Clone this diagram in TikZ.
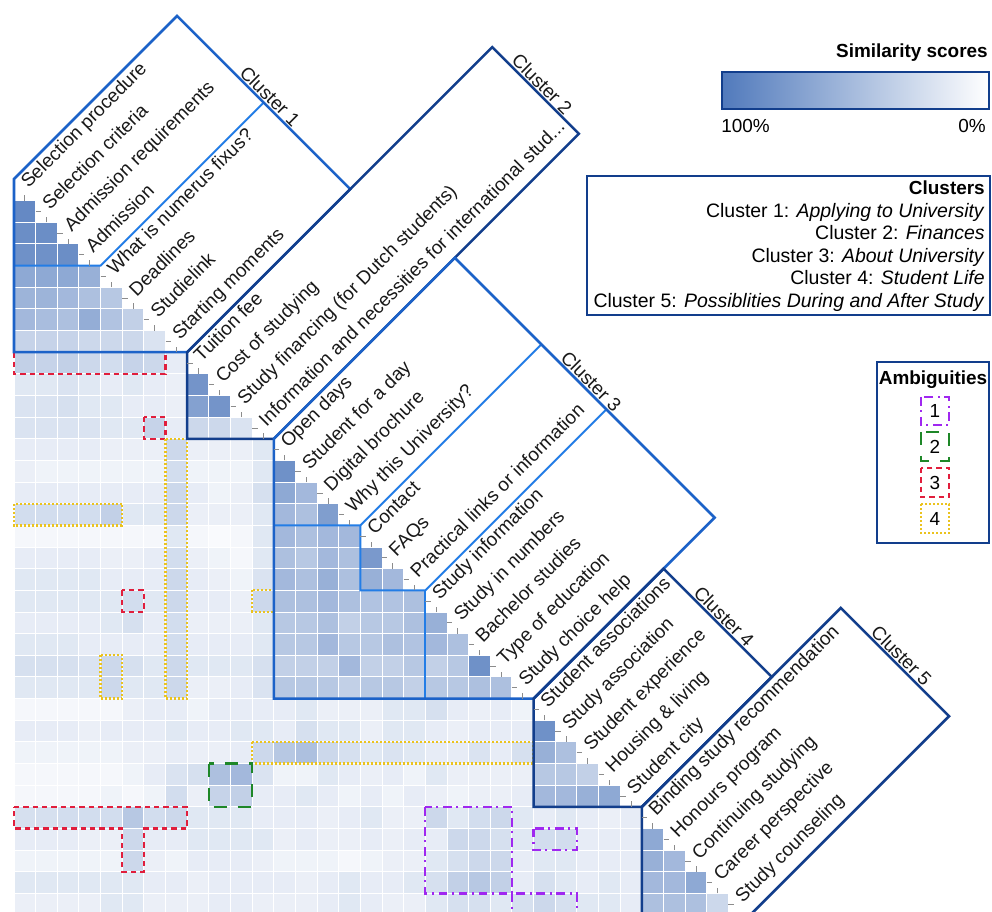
\documentclass[tikz,border=0pt]{standalone}
\usepackage{fontspec}
\setmainfont{Liberation Sans}
\definecolor{navy}{RGB}{18,62,140}
\definecolor{midblue}{RGB}{28,98,200}
\definecolor{bright}{RGB}{35,125,230}
\definecolor{simc}{RGB}{50,98,176}
\definecolor{ambA}{RGB}{160,40,240}
\definecolor{ambB}{RGB}{30,135,40}
\definecolor{ambC}{RGB}{225,30,60}
\definecolor{ambD}{RGB}{235,195,30}
\definecolor{tickc}{RGB}{140,140,140}
\definecolor{txt}{RGB}{25,25,25}
\begin{document}
\begin{tikzpicture}[x=0.75pt,y=-0.75pt,font=\fontsize{14.2pt}{17pt}\selectfont,
  clusterline/.style={line width=1.9pt,line join=miter},
  subline/.style={draw=bright,line width=1.5pt,line join=miter},
  cell/.style={draw=white,line width=0.7pt},
  tickmark/.style={draw=tickc,line width=0.6pt},
  lab/.style={rotate=45,anchor=base west,inner sep=0pt,text=txt,xshift=2.2pt,yshift=-1.5pt},
  clab/.style={rotate=-45,anchor=south,inner sep=1.5pt,text=txt},
  amb1/.style={draw=ambA,line width=1.7pt,dash pattern=on 6.5pt off 3.5pt on 1.5pt off 3.5pt},
  amb2/.style={draw=ambB,line width=1.7pt,dash pattern=on 10pt off 8pt},
  amb3/.style={draw=ambC,line width=1.7pt,dash pattern=on 4pt off 3pt},
  amb4/.style={draw=ambD,line width=1.7pt,dash pattern=on 1.5pt off 1.5pt},
  legbox/.style={draw=navy,line width=1.7pt},
  legtext/.style={anchor=base east,inner sep=0pt,font=\fontsize{14.6pt}{17pt}\selectfont},
  boldf/.style={font=\fontsize{14.2pt}{17pt}\selectfont\bfseries}]

\fill[white] (0,0) rectangle (992,912);
\useasboundingbox (0,0) rectangle (992,912);

\begin{scope}[shift={(14,179)}]
\begin{scope}[x=16.2375pt,y=-16.2375pt]
% ---------- cells ----------
\foreach \i/\vals in {
2/{75},
3/{72,72},
4/{70,70,72},
5/{55,55,55,50},
6/{48,48,45,40,35},
7/{45,42,40,52,38,30},
8/{28,28,28,25,25,25,18},
9/{30,28,30,25,22,28,25,12},
10/{15,15,18,15,12,15,12,10,68},
11/{18,18,20,15,15,12,12,10,60,68},
12/{18,18,18,18,15,15,28,12,25,25,18},
13/{12,12,12,12,10,10,10,25,10,10,10,15},
14/{10,8,8,8,8,8,8,22,8,8,8,15,70},
15/{12,12,12,12,12,12,12,25,12,8,10,20,55,45},
16/{22,22,22,22,30,15,15,25,10,10,10,15,45,40,62},
17/{5,5,5,5,5,5,5,15,5,3,5,15,45,40,45,45},
18/{12,12,12,12,10,10,12,22,10,8,5,15,40,35,45,40,65},
19/{15,15,15,15,12,12,12,25,12,10,8,18,45,40,50,40,50,45},
20/{15,15,15,15,15,22,15,25,12,12,10,25,40,40,45,40,38,38,40},
21/{12,12,12,12,15,20,12,22,10,10,10,15,35,35,40,30,35,35,40,50},
22/{15,15,15,12,12,12,12,22,12,12,12,15,35,35,45,35,35,40,38,45,40},
23/{20,20,20,18,25,20,15,25,15,15,15,20,30,30,30,45,30,30,35,30,35,70},
24/{15,15,15,15,25,15,15,25,10,10,12,18,35,35,35,30,35,35,30,35,35,40,40},
25/{5,5,5,5,5,10,12,12,8,12,12,12,12,15,10,10,10,15,15,20,12,10,12,8},
26/{12,12,12,10,12,12,12,15,12,12,15,15,12,20,15,15,10,15,15,12,10,12,12,12,70},
27/{8,8,8,8,8,10,10,12,10,10,12,25,35,40,25,20,15,18,15,12,12,18,12,20,50,40},
28/{5,5,5,5,5,8,12,18,20,40,45,18,8,8,15,12,10,12,8,15,10,10,10,10,35,35,30},
29/{5,5,5,5,8,5,8,22,10,28,30,12,12,15,12,8,12,8,12,10,8,10,10,12,45,45,50,55},
30/{20,20,22,22,22,35,22,25,15,15,15,12,12,12,10,12,15,10,10,25,15,22,25,15,12,15,12,10,12},
31/{12,12,12,10,10,25,12,12,15,15,15,15,10,12,10,10,12,10,12,12,25,25,20,15,22,22,12,12,12,55},
32/{8,8,8,8,8,25,10,8,12,12,12,10,8,8,8,5,8,10,10,15,20,25,25,12,15,15,12,12,12,50,45},
33/{15,15,15,15,15,15,12,12,10,12,12,12,12,10,12,15,12,12,15,20,30,35,30,12,20,15,12,15,12,45,45,55},
34/{10,10,10,10,15,15,10,10,10,12,12,10,10,10,12,15,12,10,10,15,20,20,15,20,25,20,15,15,12,40,40,40,25}}{
  \foreach \v [count=\j] in \vals {
    \fill[simc!\v!white,cell] (\j-1,\i-1) rectangle (\j,\i);
  }
}
% ---------- ambiguity marks ----------
\draw[amb3] (0,8) rectangle (7,9);
\draw[amb3] (6,11) rectangle (7,12);
\draw[amb3] (5,19) rectangle (6,20);
\draw[amb3] (0,29) -- (8,29) -- (8,30) -- (6,30) -- (6,32) -- (5,32) -- (5,30) -- (0,30) -- cycle;
\draw[amb4] (7,12) rectangle (8,24);
\draw[amb4] (0,15) rectangle (5,16);
\draw[amb4] (11,19) rectangle (12,20);
\draw[amb4] (4,22) rectangle (5,24);
\draw[amb4] (11,26) rectangle (24,27);
\draw[amb2] (9,27) rectangle (11,29);
\draw[amb1] (19,29) rectangle (23,33);
\draw[amb1] (24,30) rectangle (26,31);
\draw[amb1] (23,33) rectangle (26,34);
% ---------- sub-cluster separators ----------
\draw[subline] (0,4) -- (4,4) -- (4+7.53,4-7.53);
\draw[subline] (12,16) -- (16,16) -- (16+8.36,16-8.36);
\draw[subline] (16,16) -- (16,19) -- (19,19) -- (19+8.36,19-8.36);
\draw[subline] (19,19) -- (19,24);
% ---------- cluster outlines ----------
\foreach \A/\B/\L/\n/\col in {0/8/7.53/1/midblue, 8/12/14.09/2/navy, 12/24/8.36/3/midblue, 24/29/6.0/4/navy, 29/34/9.19/5/navy}{
  \draw[clusterline,draw=\col] (\A,\B) -- (\A,\A) -- (\A+\L,\A-\L) -- (\B+\L,\B-\L) -- (\B,\B) -- cycle;
  \node[clab] (c\n) at ({(\A+\B)/2+\L},{(\A+\B)/2-\L}) {Cluster \n};
}
% ---------- ticks and labels ----------
\foreach \i in {1,...,33}{ \draw[tickmark] (\i-0.5,\i) -- (\i-0.5,\i-0.25); }
\foreach \i in {2,...,34}{ \draw[tickmark] (\i-1,\i-0.5) -- (\i-0.75,\i-0.5); }
\foreach \t [count=\i] in {Selection procedure, Selection criteria, Admission requirements, Admission, What is numerus fixus?, Deadlines, Studielink, Starting moments, Tuition fee, Cost of studying, Study financing (for Dutch students), Information and necessities for international stud.{}.{}., Open days, Student for a day, Digital brochure, Why this University?, Contact, FAQs, Practical links or information, Study information, Study in numbers, Bachelor studies, Type of education, Study choice help, Student associations, Study association, Student experience, Housing \& living, Student city, Binding study recommendation, Honours program, Continuing studying, Career perspective, Study counseling}{
  \node[lab] (l\i) at (\i-0.5,\i-0.5) {\t};
}
\end{scope}
\end{scope}

% ---------- legends ----------
\node[boldf,anchor=base east,inner sep=0pt] (simt) at (988,58) {Similarity scores};
\shade[left color=simc!85!white,right color=white] (722,72) rectangle (989,109);
\draw[legbox] (722,72) rectangle (989,109);
\node[anchor=base west,inner sep=0pt] (p100) at (721,133) {100\%};
\node[anchor=base east,inner sep=0pt] (p0) at (986,133) {0\%};

\draw[legbox] (587,176) rectangle (990,315);
\node[boldf,anchor=base east,inner sep=0pt] (clt) at (985,195) {Clusters};
\node[legtext] (cl1) at (985,217.5) {Cluster 1: \textit{Applying to University}};
\node[legtext] (cl2) at (985,240) {Cluster 2: \textit{Finances}};
\node[legtext] (cl3) at (985,262.5) {Cluster 3: \textit{About University}};
\node[legtext] (cl4) at (985,285) {Cluster 4: \textit{Student Life}};
\node[legtext] (cl5) at (985,307.5) {Cluster 5: \textit{Possiblities During and After Study}};

\draw[legbox] (877,362) rectangle (989,543);
\node[boldf,anchor=base,inner sep=0pt] (ambt) at (933,385) {Ambiguities};
\draw[amb1] (921,397) rectangle (949,425);
\node (a1) at (935,411) {1};
\draw[amb2] (921,432) rectangle (949,461);
\node (a2) at (935,446.5) {2};
\draw[amb3] (921,468) rectangle (949,497);
\node (a3) at (935,482.5) {3};
\draw[amb4] (921,504) rectangle (949,533);
\node (a4) at (935,518.5) {4};
\end{tikzpicture}
\end{document}
